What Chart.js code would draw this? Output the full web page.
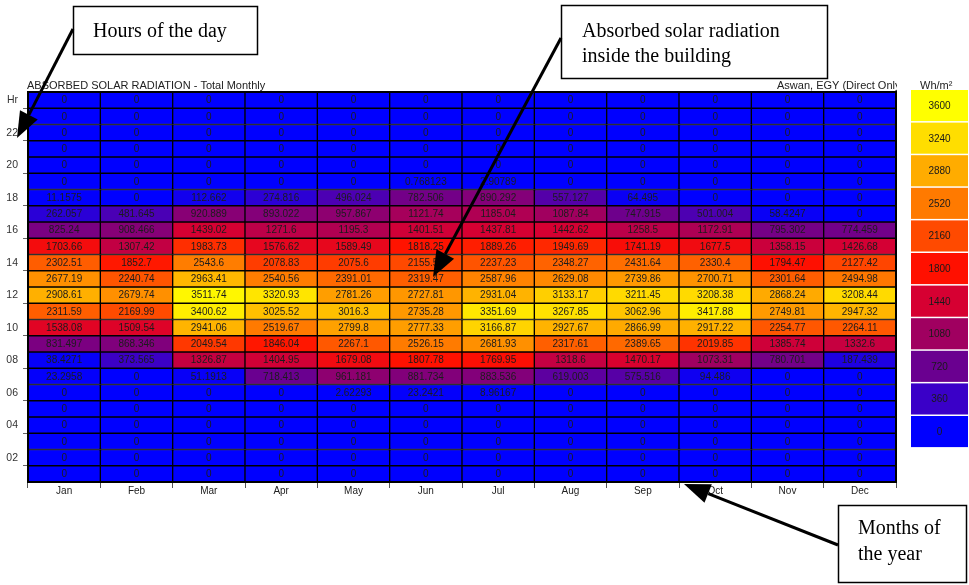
<!DOCTYPE html>
<html>
<head>
<meta charset="utf-8">
<title>Absorbed solar radiation - Aswan</title>
<script src="https://cdn.jsdelivr.net/npm/chart.js@4.4.0/dist/chart.umd.min.js"></script>
<style>
  html, body { margin: 0; padding: 0; background: #fff; }
  #wrap { width: 969px; height: 585px; position: relative; }
</style>
</head>
<body>
<div id="wrap"><canvas id="chart"></canvas></div>
<script>
// Meses (eixo x)
const months = ['Jan', 'Feb', 'Mar', 'Apr', 'May', 'Jun', 'Jul', 'Aug', 'Sep', 'Oct', 'Nov', 'Dec'];

// Horas, de cima (24) para baixo (1)
const hours = [24, 23, 22, 21, 20, 19, 18, 17, 16, 15, 14, 13, 12, 11, 10, 9, 8, 7, 6, 5, 4, 3, 2, 1];

// Radiação absorvida (Wh/m²), uma linha por hora, na mesma ordem de "hours"
const absorbed = [
  [0, 0, 0, 0, 0, 0, 0, 0, 0, 0, 0, 0],
  [0, 0, 0, 0, 0, 0, 0, 0, 0, 0, 0, 0],
  [0, 0, 0, 0, 0, 0, 0, 0, 0, 0, 0, 0],
  [0, 0, 0, 0, 0, 0, 0, 0, 0, 0, 0, 0],
  [0, 0, 0, 0, 0, 0, 0, 0, 0, 0, 0, 0],
  [0, 0, 0, 0, 0, 0.768123, 2.90789, 0, 0, 0, 0, 0],
  [11.1575, 0, 112.662, 274.816, 496.024, 782.506, 890.292, 557.127, 64.495, 0, 0, 0],
  [262.057, 481.645, 920.889, 893.022, 957.867, 1121.74, 1185.04, 1087.84, 747.915, 501.004, 58.4247, 0],
  [825.24, 908.466, 1439.02, 1271.6, 1195.3, 1401.51, 1437.81, 1442.62, 1258.5, 1172.91, 795.302, 774.459],
  [1703.66, 1307.42, 1983.73, 1576.62, 1589.49, 1818.25, 1889.26, 1949.69, 1741.19, 1677.5, 1358.15, 1426.68],
  [2302.51, 1852.7, 2543.6, 2078.83, 2075.6, 2155.56, 2237.23, 2348.27, 2431.64, 2330.4, 1794.47, 2127.42],
  [2677.19, 2240.74, 2963.41, 2540.56, 2391.01, 2319.47, 2587.96, 2629.08, 2739.86, 2700.71, 2301.64, 2494.98],
  [2908.61, 2679.74, 3511.74, 3320.93, 2781.26, 2727.81, 2931.04, 3133.17, 3211.45, 3208.38, 2868.24, 3208.44],
  [2311.59, 2169.99, 3400.62, 3025.52, 3016.3, 2735.28, 3351.69, 3267.85, 3062.96, 3417.88, 2749.81, 2947.32],
  [1538.08, 1509.54, 2941.06, 2519.67, 2799.8, 2777.33, 3166.87, 2927.67, 2866.99, 2917.22, 2254.77, 2264.11],
  [831.497, 868.346, 2049.54, 1846.04, 2267.1, 2526.15, 2681.93, 2317.61, 2389.65, 2019.85, 1385.74, 1332.6],
  [38.4271, 373.565, 1326.87, 1404.95, 1679.08, 1807.78, 1769.95, 1318.6, 1470.17, 1073.31, 780.701, 187.439],
  [23.2958, 0, 51.1913, 718.413, 961.181, 881.734, 883.536, 619.003, 575.516, 94.486, 0, 0],
  [0, 0, 0, 0, 2.62293, 23.2421, 8.96167, 0, 0, 0, 0, 0],
  [0, 0, 0, 0, 0, 0, 0, 0, 0, 0, 0, 0],
  [0, 0, 0, 0, 0, 0, 0, 0, 0, 0, 0, 0],
  [0, 0, 0, 0, 0, 0, 0, 0, 0, 0, 0, 0],
  [0, 0, 0, 0, 0, 0, 0, 0, 0, 0, 0, 0],
  [0, 0, 0, 0, 0, 0, 0, 0, 0, 0, 0, 0]
];

// Escala de cores (legenda)
const scaleSteps = [0, 360, 720, 1080, 1440, 1800, 2160, 2520, 2880, 3240, 3600];
const scaleColours = [
  [0, 0, 255], [58, 0, 200], [106, 0, 144], [160, 0, 96], [214, 0, 50],
  [255, 16, 0], [255, 74, 0], [255, 122, 0], [255, 172, 0], [255, 222, 0], [255, 255, 0]
];

const FONT = 'Liberation Sans, Arial, sans-serif';
const SERIF = 'Liberation Serif, Times New Roman, serif';

// Cor interpolada para um valor
function colourFor(v) {
  if (v <= scaleSteps[0]) return rgb(scaleColours[0]);
  for (let i = 1; i < scaleSteps.length; i++) {
    if (v <= scaleSteps[i]) {
      const t = (v - scaleSteps[i - 1]) / (scaleSteps[i] - scaleSteps[i - 1]);
      const a = scaleColours[i - 1], b = scaleColours[i];
      return rgb([0, 1, 2].map(k => Math.round(a[k] + (b[k] - a[k]) * t)));
    }
  }
  return rgb(scaleColours[scaleColours.length - 1]);
}

function rgb(c) {
  return 'rgb(' + c[0] + ',' + c[1] + ',' + c[2] + ')';
}

// Uma série por hora: barras flutuantes de h-0.5 a h+0.5
const datasets = hours.map((h, i) => ({
  label: String(h),
  data: absorbed[i].map(() => [h - 0.5, h + 0.5]),
  values: absorbed[i],
  backgroundColor: absorbed[i].map(colourFor),
  borderColor: '#000',
  borderWidth: 1,
  borderSkipped: false,
  grouped: false,
  categoryPercentage: 1,
  barPercentage: 1
}));

// Valores dentro das células
const cellLabels = {
  id: 'cellLabels',
  afterDatasetsDraw(chart) {
    const ctx = chart.ctx;
    ctx.save();
    ctx.font = '10px ' + FONT;
    ctx.fillStyle = '#1c1c1c';
    ctx.textAlign = 'center';
    ctx.textBaseline = 'middle';
    chart.data.datasets.forEach((ds, di) => {
      const meta = chart.getDatasetMeta(di);
      meta.data.forEach((bar, j) => {
        const y = (bar.y + bar.base) / 2;
        ctx.fillText(String(ds.values[j]), bar.x, y + 0.5);
      });
    });
    // moldura externa
    const a = chart.chartArea;
    ctx.strokeStyle = '#000';
    ctx.lineWidth = 2;
    ctx.strokeRect(a.left, a.top, a.right - a.left, a.bottom - a.top);
    ctx.restore();
  }
};

// Seta com ponta cheia
function arrow(ctx, x0, y0, x1, y1) {
  const ang = Math.atan2(y1 - y0, x1 - x0);
  const len = 26, half = 10;
  const bx = x1 - len * Math.cos(ang), by = y1 - len * Math.sin(ang);
  ctx.beginPath();
  ctx.moveTo(x0, y0);
  ctx.lineTo(bx, by);
  ctx.lineWidth = 3;
  ctx.stroke();
  ctx.beginPath();
  ctx.moveTo(x1, y1);
  ctx.lineTo(bx + half * Math.sin(ang), by - half * Math.cos(ang));
  ctx.lineTo(bx - half * Math.sin(ang), by + half * Math.cos(ang));
  ctx.closePath();
  ctx.fill();
}

// Legenda de cores, títulos e anotações
const decorations = {
  id: 'decorations',
  afterDraw(chart) {
    const ctx = chart.ctx;
    ctx.save();

    // legenda
    const lx = 911, lw = 57, top = 90, step = 32.6;
    ctx.font = '10px ' + FONT;
    ctx.textAlign = 'center';
    ctx.textBaseline = 'middle';
    for (let i = 0; i < scaleSteps.length; i++) {
      const k = scaleSteps.length - 1 - i;
      const y = top + i * step;
      ctx.fillStyle = rgb(scaleColours[k]);
      ctx.fillRect(lx, y, lw, step - 1.5);
      ctx.fillStyle = '#1a1a1a';
      ctx.fillText(String(scaleSteps[k]), lx + lw / 2, y + step / 2);
    }

    // textos do cabeçalho (cortados no topo)
    ctx.save();
    ctx.beginPath();
    ctx.rect(0, 80, 969, 20);
    ctx.clip();
    ctx.font = '11px ' + FONT;
    ctx.fillStyle = '#222';
    ctx.textAlign = 'left';
    ctx.textBaseline = 'alphabetic';
    ctx.fillText('ABSORBED SOLAR RADIATION - Total Monthly', 27, 89);
    ctx.save();
    ctx.beginPath();
    ctx.rect(0, 0, 897, 100);
    ctx.clip();
    ctx.fillText('Aswan, EGY (Direct Only)', 777, 89);
    ctx.restore();
    ctx.fillText('Wh/m²', 920, 89);
    ctx.restore();

    // caixas de texto
    ctx.strokeStyle = '#000';
    ctx.fillStyle = '#000';
    ctx.lineWidth = 1.5;
    ctx.strokeRect(73.5, 6.5, 184, 48);
    ctx.strokeRect(561.5, 5.5, 266, 73);
    ctx.strokeRect(838.5, 505.5, 128, 77);

    ctx.font = '20px ' + SERIF;
    ctx.textAlign = 'left';
    ctx.textBaseline = 'alphabetic';
    ctx.fillText('Hours of the day', 93, 37);
    ctx.fillText('Absorbed solar radiation', 582, 37);
    ctx.fillText('inside the building', 582, 62);
    ctx.fillText('Months of', 858, 534);
    ctx.fillText('the year', 858, 560);

    // setas
    arrow(ctx, 73, 29, 17, 138);
    arrow(ctx, 561, 38, 433, 277);
    arrow(ctx, 838, 545, 684, 484);

    ctx.restore();
  }
};

// Ticks do eixo y: valores inteiros (rótulos) e meias horas (marcas)
function hourTicks() {
  const ticks = [];
  for (let h = 1; h <= 24; h++) {
    ticks.push({ value: h });
    if (h % 2 === 1) ticks.push({ value: h + 0.5 });
  }
  return ticks;
}

new Chart(document.getElementById('chart'), {
  type: 'bar',
  data: { labels: months, datasets: datasets },
  options: {
    responsive: true,
    maintainAspectRatio: false,
    animation: false,
    layout: { padding: { top: 92, right: 73, left: 0, bottom: 0 } },
    plugins: {
      legend: { display: false },
      tooltip: { enabled: false },
      title: { display: false }
    },
    scales: {
      x: {
        type: 'category',
        offset: true,
        grid: {
          offset: true,
          drawOnChartArea: false,
          drawTicks: true,
          tickLength: 6,
          color: '#555'
        },
        border: { display: true, color: '#000', width: 2 },
        ticks: {
          font: { family: FONT, size: 10 },
          color: '#222',
          padding: -3,
          maxRotation: 0,
          autoSkip: false
        },
        afterFit: function(scale) { scale.height = 103; }
      },
      y: {
        type: 'linear',
        min: 0.5,
        max: 24.5,
        afterBuildTicks: function(scale) { scale.ticks = hourTicks(); },
        grid: {
          drawOnChartArea: false,
          drawTicks: true,
          tickLength: 5,
          color: function(ctx) {
            return ctx.tick && ctx.tick.value % 1 !== 0 ? '#666' : 'rgba(0,0,0,0)';
          }
        },
        border: { display: true, color: '#000', width: 2 },
        ticks: {
          autoSkip: false,
          font: { family: FONT, size: 10.5 },
          color: '#333',
          padding: 5,
          callback: function(value) {
            if (value % 1 !== 0 || value % 2 !== 0) return '';
            if (value === 24) return 'Hr';
            return value < 10 ? '0' + value : String(value);
          }
        },
        afterFit: function(scale) { scale.width = 28; }
      }
    }
  },
  plugins: [cellLabels, decorations]
});
</script>
</body>
</html>
